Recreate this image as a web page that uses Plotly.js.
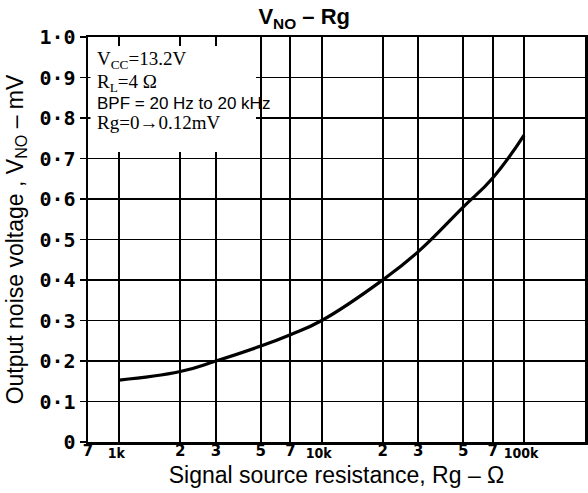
<!DOCTYPE html>
<html><head><meta charset="utf-8">
<script src="https://cdn.plot.ly/plotly-3.0.1.min.js"></script>
<style>body{margin:0;background:#fff}#c{width:588px;height:493px}</style>
</head><body><div id="c"></div><script>
// Data
const rg  = [1000, 2000, 3000, 5000, 7000, 10000, 20000, 30000, 50000, 70000, 100000];
const vno = [0.153, 0.174, 0.200, 0.237, 0.265, 0.300, 0.400, 0.470, 0.580, 0.652, 0.758];

const xTickVals = [700, 1000, 2000, 3000, 5000, 7000, 10000, 20000, 30000, 50000, 70000, 100000, 200000];
const xTickText = ['7', '', '2', '3', '5', '7', '', '2', '3', '5', '7', '', '2'];
const decadeVals = [1000, 10000, 100000];
const decadeText = ['1k', '10k', '100k'];
const yTickVals = [0, 0.1, 0.2, 0.3, 0.4, 0.5, 0.6, 0.7, 0.8, 0.9, 1.0];
const yTickText = ['0', '0·1', '0·2', '0·3', '0·4', '0·5', '0·6', '0·7', '0·8', '0·9', '1·0'];

const noteLines = ['V<sub>CC</sub>=13.2V', 'R<sub>L</sub>=4 Ω', 'BPF = 20 Hz to 20 kHz', 'Rg=0→0.12mV'];
const noteFonts = ['Liberation Serif', 'Liberation Serif', 'Liberation Sans', 'Liberation Serif'];
const noteSizes = [19, 19, 17, 19];
const noteY = [0.942, 0.887, 0.835, 0.789];

const traces = [
  {x: rg, y: vno, type: 'scatter', mode: 'lines', line: {color: '#000', width: 3.2, shape: 'spline', smoothing: 1.3}, hoverinfo: 'skip', showlegend: false},
  {x: rg, y: vno, xaxis: 'x2', type: 'scatter', mode: 'markers', marker: {opacity: 0}, hoverinfo: 'skip', showlegend: false}
];

const annotations = noteLines.map((t, i) => ({
  text: t, xref: 'paper', yref: 'paper', x: 0.014, y: noteY[i], xanchor: 'left', yanchor: 'middle',
  showarrow: false, font: {family: noteFonts[i], size: noteSizes[i], color: '#000'}
}));

const layout = {
  width: 588, height: 493,
  margin: {l: 88, r: 3, t: 37, b: 51, pad: 0},
  paper_bgcolor: '#fff', plot_bgcolor: '#fff',
  showlegend: false,
  title: {text: '<b>V<sub>NO</sub> – Rg</b>', x: 0.435, xref: 'paper', xanchor: 'center', y: 0.966, yanchor: 'middle', yref: 'container',
          font: {family: 'Liberation Sans', size: 22, color: '#000'}},
  xaxis: {
    type: 'log', range: [Math.log10(700), Math.log10(200000)],
    tickmode: 'array', tickvals: xTickVals, ticktext: xTickText,
    ticks: '', showgrid: true, gridcolor: '#000', gridwidth: 1.8,
    showline: true, linecolor: '#000', linewidth: 2.5, mirror: true,
    zeroline: false, ticklabelstandoff: -7,
    tickfont: {family: 'DejaVu Sans', size: 15, color: '#000', weight: 'bold'},
    title: {text: 'Signal source resistance, Rg – Ω', standoff: 9, font: {family: 'Liberation Sans', size: 23, color: '#000'}}
  },
  xaxis2: {
    type: 'log', range: [Math.log10(700), Math.log10(200000)], overlaying: 'x', anchor: 'y', side: 'bottom',
    tickmode: 'array', tickvals: decadeVals, ticktext: decadeText,
    ticks: '', showgrid: false, showline: false, zeroline: false,
    ticklabelstandoff: 1, ticklabelshift: -3,
    tickfont: {family: 'DejaVu Sans Condensed', size: 14, color: '#000', weight: 'bold'}
  },
  yaxis: {
    range: [0, 1.0], tickmode: 'array', tickvals: yTickVals, ticktext: yTickText,
    ticks: 'outside', ticklen: 6, tickwidth: 1.5, tickcolor: '#000',
    showgrid: true, gridcolor: '#000', gridwidth: 1.8,
    showline: true, linecolor: '#000', linewidth: 2.5, mirror: true, zeroline: false,
    tickfont: {family: 'DejaVu Sans Mono', size: 20, color: '#000', weight: 'bold'},
    title: {text: 'Output noise voltage , V<sub>NO</sub> – mV', standoff: 10, font: {family: 'Liberation Sans', size: 23, color: '#000'}}
  },
  shapes: [
    {type: 'rect', xref: 'paper', yref: 'paper', x0: 0.005, x1: 0.338, y0: 0.716, y1: 0.978,
     fillcolor: '#fff', line: {width: 0}, layer: 'above'}
  ],
  annotations: annotations
};

Plotly.newPlot('c', traces, layout, {displayModeBar: false, staticPlot: true});
</script></body></html>
